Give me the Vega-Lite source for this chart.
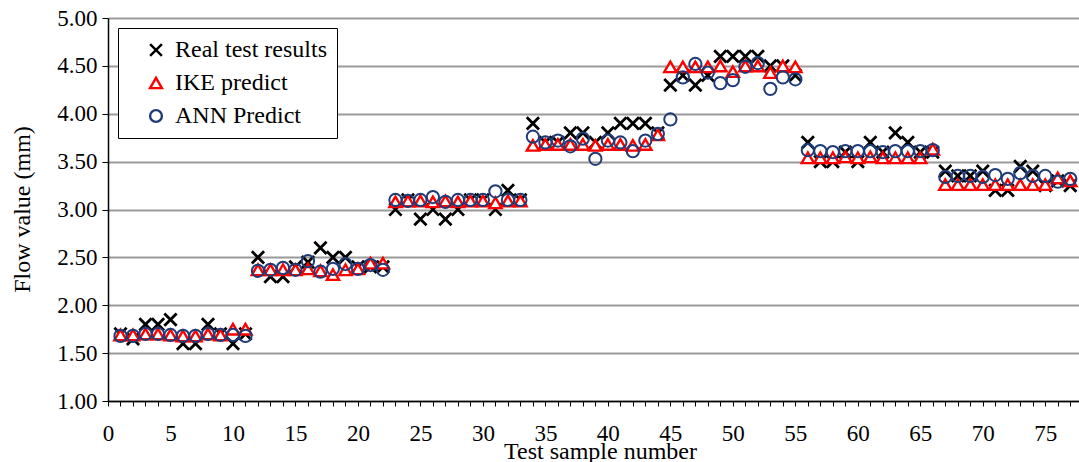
{
  "$schema": "https://vega.github.io/schema/vega-lite/v6.json",
  "width": 971,
  "height": 383,
  "autosize": {"type": "none"},
  "padding": {"left": 108, "top": 18, "right": 0, "bottom": 61},
  "background": "white",
  "config": {
    "view": {"stroke": null},
    "font": "Liberation Serif",
    "axis": {"labelFont": "Liberation Serif", "titleFont": "Liberation Serif"},
    "style": {"guide-label": {"font": "Liberation Serif"}, "guide-title": {"font": "Liberation Serif"}}
  },
  "datasets": {
    "real": [1.70,1.65,1.80,1.80,1.85,1.60,1.60,1.80,1.70,1.60,1.70,
             2.50,2.30,2.30,2.40,2.45,2.60,2.50,2.50,2.40,2.40,2.40,
             3.00,3.10,2.90,3.00,2.90,3.00,3.10,3.10,3.00,3.20,3.10,
             3.90,3.70,3.70,3.80,3.80,3.70,3.80,3.90,3.90,3.90,3.80,
             4.30,4.40,4.30,4.40,4.60,4.60,4.60,4.60,4.50,4.50,4.40,
             3.70,3.50,3.50,3.60,3.50,3.70,3.60,3.80,3.70,3.60,3.60,
             3.40,3.35,3.35,3.40,3.20,3.20,3.45,3.40,3.25,3.30,3.25],
    "ike": [1.69,1.69,1.70,1.70,1.69,1.68,1.68,1.70,1.69,1.75,1.75,
            2.37,2.37,2.37,2.37,2.38,2.36,2.32,2.37,2.38,2.44,2.44,
            3.08,3.09,3.09,3.08,3.09,3.08,3.09,3.09,3.07,3.09,3.09,
            3.67,3.68,3.68,3.68,3.68,3.67,3.68,3.68,3.67,3.68,3.78,
            4.49,4.49,4.49,4.49,4.50,4.44,4.50,4.50,4.43,4.50,4.49,
            3.54,3.54,3.54,3.55,3.54,3.55,3.54,3.54,3.54,3.54,3.63,
            3.26,3.26,3.26,3.26,3.26,3.26,3.26,3.26,3.26,3.33,3.30],
    "ann": [1.68,1.68,1.70,1.70,1.69,1.68,1.68,1.70,1.69,1.69,1.68,
            2.36,2.37,2.39,2.37,2.46,2.35,2.38,2.43,2.38,2.42,2.37,
            3.10,3.09,3.10,3.13,3.08,3.10,3.10,3.10,3.19,3.10,3.10,
            3.76,3.70,3.72,3.66,3.74,3.53,3.72,3.70,3.61,3.72,3.79,
            3.94,4.38,4.52,4.43,4.32,4.35,4.49,4.53,4.26,4.38,4.36,
            3.62,3.61,3.60,3.61,3.61,3.61,3.60,3.61,3.61,3.61,3.62,
            3.34,3.35,3.35,3.34,3.36,3.32,3.38,3.35,3.35,3.29,3.32]
  },
  "data": {"values": [{"k": 0}]},
  "encoding": {
    "x": {"field": "n", "type": "quantitative",
          "scale": {"domain": [0, 77.7], "nice": false, "zero": false},
          "axis": {
            "title": "Test sample number",
            "values": [0,1,2,3,4,5,6,7,8,9,10,11,12,13,14,15,16,17,18,19,20,21,22,23,24,25,26,27,28,29,30,31,32,33,34,35,36,37,38,39,40,41,42,43,44,45,46,47,48,49,50,51,52,53,54,55,56,57,58,59,60,61,62,63,64,65,66,67,68,69,70,71,72,73,74,75,76,77],
            "labelExpr": "datum.value % 5 === 0 ? datum.label : ''",
            "labelFontSize": 23, "labelColor": "black", "labelFont": "Liberation Serif",
            "labelPadding": 16, "labelFlush": false, "labelOverlap": false,
            "tickSize": 5,
            "tickColor": "black", "tickWidth": 1,
            "domainColor": "black", "domainWidth": 1.5,
            "grid": false,
            "titleFontSize": 24, "titleFontWeight": "normal", "titleColor": "black", "titleFont": "Liberation Serif",
            "titleX": 492, "titleY": 57, "titleBaseline": "alphabetic", "titleAnchor": "middle"
          }},
    "y": {"field": "data", "type": "quantitative",
          "scale": {"domain": [1, 5], "nice": false, "zero": false},
          "axis": {
            "title": "Flow value (mm)",
            "values": [1, 1.5, 2, 2.5, 3, 3.5, 4, 4.5, 5],
            "format": ".2f",
            "labelFontSize": 23, "labelColor": "black", "labelFont": "Liberation Serif",
            "labelPadding": 5, "labelFlush": false,
            "tickSize": 6, "tickColor": "black",
            "domainColor": "black", "domainWidth": 1.5,
            "grid": true, "gridColor": "#9a9a9a", "gridWidth": 2,
            "titleFontSize": 24, "titleFontWeight": "normal", "titleColor": "black", "titleFont": "Liberation Serif",
            "titleAngle": 270, "titleX": -86, "titleY": 191, "titleBaseline": "middle", "titleAlign": "center"
          }},
    "shape": {"field": "series", "type": "nominal",
              "scale": {"domain": ["Real test results", "IKE predict", "ANN Predict"],
                        "range": ["M-1,-1L1,1M-1,1L1,-1", "triangle-up", "circle"]}},
    "stroke": {"field": "series", "type": "nominal",
               "scale": {"domain": ["Real test results", "IKE predict", "ANN Predict"],
                         "range": ["#000000", "#ff0000", "#1f3b78"]},
               "legend": {
                 "title": null, "orient": "none", "legendX": 10, "legendY": 10,
                 "strokeColor": "black", "fillColor": "white", "padding": 10,
                 "labelFontSize": 24, "labelFont": "Liberation Serif", "labelColor": "black",
                 "symbolSize": 140, "symbolStrokeWidth": 2.4, "symbolOffset": 16, "labelOffset": 7,
                 "rowPadding": 9, "symbolFillColor": "transparent"
               }}
  },
  "layer": [
    {
      "data": {"name": "real"},
      "transform": [
        {"window": [{"op": "row_number", "as": "n"}]},
        {"calculate": "'Real test results'", "as": "series"}
      ],
      "mark": {"type": "point", "filled": false, "opacity": 1, "size": 150, "strokeWidth": 2.8}
    },
    {
      "data": {"name": "ike"},
      "transform": [
        {"window": [{"op": "row_number", "as": "n"}]},
        {"calculate": "'IKE predict'", "as": "series"}
      ],
      "mark": {"type": "point", "filled": false, "fill": "white", "fillOpacity": 1, "opacity": 1, "size": 150, "strokeWidth": 2.4}
    },
    {
      "data": {"name": "ann"},
      "transform": [
        {"window": [{"op": "row_number", "as": "n"}]},
        {"calculate": "'ANN Predict'", "as": "series"}
      ],
      "mark": {"type": "point", "filled": false, "opacity": 1, "size": 150, "strokeWidth": 2}
    }
  ]
}
